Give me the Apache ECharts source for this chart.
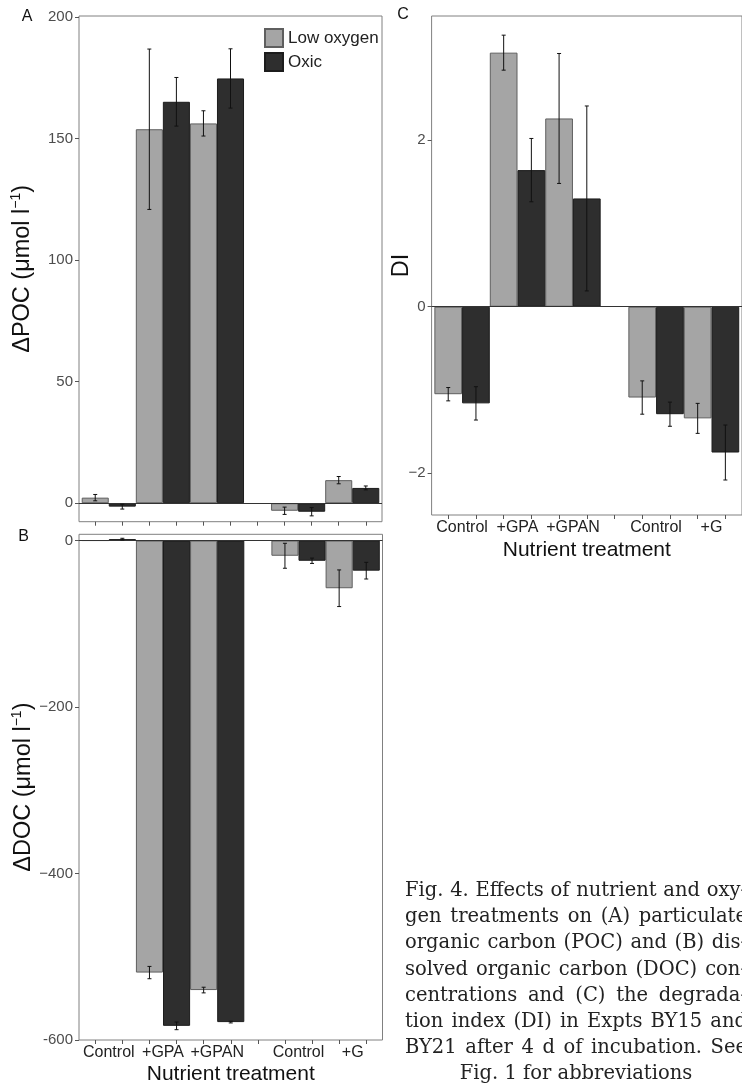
<!DOCTYPE html>
<html>
<head>
<meta charset="utf-8">
<script src="https://cdn.jsdelivr.net/npm/echarts@6/dist/echarts.min.js"></script>
<style>
html,body{margin:0;padding:0;background:#fff;}
#chart{width:742px;height:1086px;}
</style>
</head>
<body>
<div id="chart"></div>
<script>
// ---------------- data ----------------
const treatments  = ['Control', '+GPA', '+GPAN', 'Control', '+G'];
const experiments = ['BY15', 'BY15', 'BY15', 'BY21', 'BY21'];
const seriesNames = ['Low oxygen', 'Oxic'];

// (A) ΔPOC (µmol l-1)
const pocLow     = [2.3, 153.9, 156.3, -3.1, 9.5];
const pocLowErr  = [1.3, 33.0, 5.2, 1.5, 1.5];
const pocOxic    = [-1.4, 165.2, 174.8, -3.5, 6.3];
const pocOxicErr = [1.0, 10.0, 12.2, 1.7, 0.8];

// (B) ΔDOC (µmol l-1)
const docLow     = [0, -519, -540, -18.3, -57.3];
const docLowErr  = [0, 7.4, 3.4, 15, 22];
const docOxic    = [1.7, -583, -578.5, -24.3, -36.2];
const docOxicErr = [1.0, 4.6, 1.0, 3.2, 10];

// (C) DI
const diLow     = [-1.05, 3.05, 2.26, -1.09, -1.34];
const diLowErr  = [0.08, 0.21, 0.78, 0.20, 0.18];
const diOxic    = [-1.16, 1.64, 1.30, -1.29, -1.75];
const diOxicErr = [0.20, 0.38, 1.11, 0.145, 0.33];

// tick labels
const pocTicks = [0, 50, 100, 150, 200];
const docTicks = [-600, -400, -200, 0];
const diTicks  = [-2, 0, 2];

const captionLines = [
  'Fig. 4. Effects of nutrient and oxy-',
  'gen treatments on (A) particulate',
  'organic carbon (POC) and (B) dis-',
  'solved organic carbon (DOC) con-',
  'centrations and (C) the degrada-',
  'tion index (DI) in Expts BY15 and',
  'BY21 after 4 d of incubation. See',
  'Fig. 1 for abbreviations'
];

// ---------------- layout helpers ----------------
const slotPos = [];
(function(){
  let gaps = 0;
  for (let i = 0; i < treatments.length; i++) {
    if (i > 0 && experiments[i] !== experiments[i-1]) gaps++;
    slotPos.push(1 + 2*i + gaps);
  }
})();
const nSlots = slotPos[slotPos.length-1] + 1;
const xMin = 0.4, xMax = nSlots + 0.6;
const tickVals = []; for (let k = 1; k <= nSlots; k++) tickVals.push(k);
const labelVals = slotPos.map(p => p + 0.5);
const labelMap = {}; labelVals.forEach((v, i) => labelMap[v.toFixed(1)] = treatments[i]);

const FONT = '"Liberation Sans", Arial, Helvetica, sans-serif';
const LOW_COLOR = '#a5a5a5', LOW_BORDER = '#5f5f5f';
const OX_COLOR = '#2e2e2e', OX_BORDER = '#1c1c1c';

function xAxisDef(gridIndex, showLabels, showName, nameGap) {
  return {
    type: 'value', gridIndex, min: xMin, max: xMax,
    axisLine: { show: false, onZero: false },
    splitLine: { show: false },
    axisTick: { show: true, customValues: tickVals, length: 4, lineStyle: { color: '#555', width: 1 } },
    axisLabel: {
      show: showLabels, customValues: labelVals, margin: 5,
      color: '#222', fontSize: 16, fontFamily: FONT,
      formatter: v => labelMap[Number(v).toFixed(1)] || ''
    },
    name: showName ? 'Nutrient treatment' : '',
    nameLocation: 'middle', nameGap: nameGap, nameMoveOverlap: false,
    nameTextStyle: { color: '#111', fontSize: 21, fontFamily: FONT }
  };
}
function minusFmt(v) { return v < 0 ? '\u2212' + Math.abs(v) : String(v); }
function yAxisDef(gridIndex, min, max, ticks, nameTxt, nameGap, fmt) {
  return {
    type: 'value', gridIndex, min, max,
    axisLine: { show: false, onZero: false },
    splitLine: { show: false },
    axisTick: { show: true, customValues: ticks, length: 4, lineStyle: { color: '#555', width: 1 } },
    axisLabel: { customValues: ticks, margin: 6, color: '#4d4d4d', fontSize: 15, fontFamily: FONT, formatter: fmt || minusFmt },
    name: nameTxt, nameLocation: 'middle', nameRotate: 90, nameGap: nameGap, nameMoveOverlap: false,
    nameTextStyle: {
      fontFamily: FONT, color: '#111',
      rich: {
        a: { fontSize: 23.5, lineHeight: 28, fontFamily: FONT, color: '#111' },
        s: { fontSize: 14, lineHeight: 15, fontFamily: FONT, color: '#111', verticalAlign: 'top' }
      }
    }
  };
}

function barSeries(name, vals, offset, gridIdx, color, border, withZero) {
  const s = {
    type: 'bar', name, xAxisIndex: gridIdx, yAxisIndex: gridIdx,
    data: vals.map((v, i) => [slotPos[i] + offset, v]),
    barWidth: '100%', barGap: '-100%',
    itemStyle: { color, borderColor: border, borderWidth: 1 },
    emphasis: { disabled: true },
    animation: false, z: 2
  };
  if (withZero) {
    s.markLine = {
      silent: true, symbol: ['none', 'none'], label: { show: false },
      lineStyle: { color: '#333', type: 'solid', width: 1 },
      data: [{ yAxis: 0 }], animation: false, z: 3
    };
  }
  return s;
}
function errSeries(vals, errs, offset, gridIdx) {
  return {
    type: 'custom', xAxisIndex: gridIdx, yAxisIndex: gridIdx, silent: true, animation: false, z: 5,
    data: vals.map((v, i) => [slotPos[i] + offset, v - errs[i], v + errs[i]]).filter((d, i) => errs[i] > 0),
    renderItem: function (params, api) {
      const x = api.value(0);
      const lo = api.coord([x, api.value(1)]);
      const hi = api.coord([x, api.value(2)]);
      const cw = 2;
      const st = { stroke: '#111', lineWidth: 1 };
      return {
        type: 'group',
        children: [
          { type: 'line', shape: { x1: lo[0], y1: lo[1], x2: hi[0], y2: hi[1] }, style: st },
          { type: 'line', shape: { x1: lo[0] - cw, y1: lo[1], x2: lo[0] + cw, y2: lo[1] }, style: st },
          { type: 'line', shape: { x1: hi[0] - cw, y1: hi[1], x2: hi[0] + cw, y2: hi[1] }, style: st }
        ]
      };
    }
  };
}

// ---------------- caption (justified) ----------------
const capFont = '19.5px "DejaVu Serif", "Liberation Serif", serif';
const capLeft = 405, capRight = 747, capTop = 891, capStep = 26.2;
const measureCtx = document.createElement('canvas').getContext('2d');
measureCtx.font = capFont;
const captionGraphics = [];
captionLines.forEach((line, li) => {
  const y = capTop + li * capStep;
  if (li === captionLines.length - 1) {
    captionGraphics.push({ type: 'text', x: (capLeft + capRight) / 2, y,
      style: { text: line, font: capFont, fill: '#222', align: 'center', verticalAlign: 'middle' } });
    return;
  }
  const words = line.split(' ');
  const widths = words.map(w => measureCtx.measureText(w).width);
  const total = widths.reduce((a, b) => a + b, 0);
  const gap = Math.max(4, (capRight - capLeft - total) / (words.length - 1));
  let x = capLeft;
  words.forEach((w, wi) => {
    captionGraphics.push({ type: 'text', x, y,
      style: { text: w, font: capFont, fill: '#222', align: 'left', verticalAlign: 'middle' } });
    x += widths[wi] + gap;
  });
});

// ---------------- chart ----------------
const chart = echarts.init(document.getElementById('chart'), null, { renderer: 'canvas' });
const gridStyle = { show: true, borderColor: '#808080', borderWidth: 1, backgroundColor: 'transparent', containLabel: false };

chart.setOption({
  backgroundColor: '#fff',
  animation: false,
  textStyle: { fontFamily: FONT },
  grid: [
    Object.assign({ left: 79, top: 16, width: 303, height: 505.7 }, gridStyle),
    Object.assign({ left: 79, top: 534.3, width: 303.5, height: 506.7 }, gridStyle),
    Object.assign({ left: 431.6, top: 16, width: 314.4, height: 499 }, gridStyle)
  ],
  legend: {
    data: seriesNames, orient: 'vertical', left: 259, top: 23,
    itemWidth: 18, itemHeight: 18, itemGap: 4, icon: 'rect',
    textStyle: { fontSize: 17, color: '#222', fontFamily: FONT },
    selectedMode: false
  },
  xAxis: [
    xAxisDef(0, false, false, 0),
    xAxisDef(1, true, true, 24),
    xAxisDef(2, true, true, 25)
  ],
  yAxis: [
    yAxisDef(0, -7.6, 200.5, pocTicks, '{a|\u0394POC (\u03bcmol l}{s|\u22121}{a|)}', 42),
    yAxisDef(1, -600, 7.5, docTicks, '{a|\u0394DOC (\u03bcmol l}{s|\u22121}{a|)}', 41,
      v => v === -600 ? '-600' : minusFmt(v)),
    yAxisDef(2, -2.5, 3.49, diTicks, '{a|DI}', 16.5)
  ],
  series: [
    barSeries(seriesNames[0], pocLow, 0, 0, LOW_COLOR, LOW_BORDER, true),
    barSeries(seriesNames[1], pocOxic, 1, 0, OX_COLOR, OX_BORDER, false),
    errSeries(pocLow, pocLowErr, 0, 0),
    errSeries(pocOxic, pocOxicErr, 1, 0),

    barSeries(seriesNames[0], docLow, 0, 1, LOW_COLOR, LOW_BORDER, true),
    barSeries(seriesNames[1], docOxic, 1, 1, OX_COLOR, OX_BORDER, false),
    errSeries(docLow, docLowErr, 0, 1),
    errSeries(docOxic, docOxicErr, 1, 1),

    barSeries(seriesNames[0], diLow, 0, 2, LOW_COLOR, LOW_BORDER, true),
    barSeries(seriesNames[1], diOxic, 1, 2, OX_COLOR, OX_BORDER, false),
    errSeries(diLow, diLowErr, 0, 2),
    errSeries(diOxic, diOxicErr, 1, 2)
  ],
  graphic: [
    { type: 'text', x: 27, y: 17, style: { text: 'A', font: '16px ' + FONT, fill: '#111', align: 'center', verticalAlign: 'middle' } },
    { type: 'text', x: 23.5, y: 537, style: { text: 'B', font: '16px ' + FONT, fill: '#111', align: 'center', verticalAlign: 'middle' } },
    { type: 'text', x: 403, y: 15, style: { text: 'C', font: '16px ' + FONT, fill: '#111', align: 'center', verticalAlign: 'middle' } }
  ].concat(captionGraphics)
});
</script>
</body>
</html>
